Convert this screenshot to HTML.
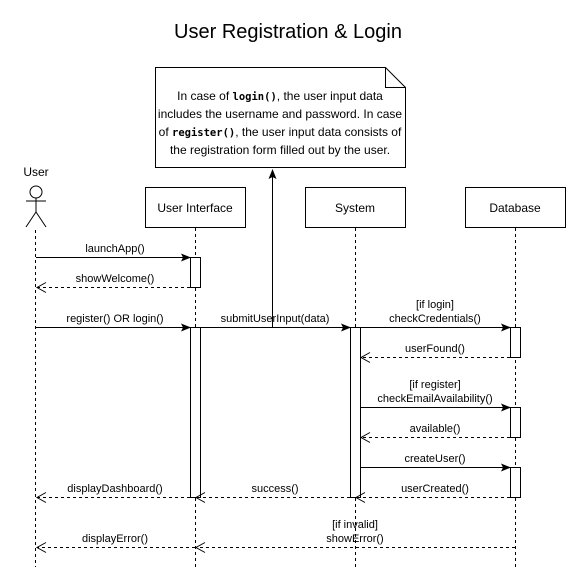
<!DOCTYPE html>
<html><head><meta charset="utf-8"><style>
body{margin:0;background:#fff}
svg{display:block}
text{font-family:"Liberation Sans",Arial,sans-serif;font-size:11px;fill:#000}
text.b{font-size:12px}
</style></head><body>
<svg width="576" height="578" viewBox="0 0 576 578" xmlns="http://www.w3.org/2000/svg">
<defs>
<marker id="f" markerWidth="10" markerHeight="8" refX="9" refY="4" orient="auto" markerUnits="userSpaceOnUse"><path d="M0,0 L10,4 L0,8 L2,4 Z" fill="#000"/></marker>
<marker id="o" markerWidth="12" markerHeight="12" refX="10" refY="6" orient="auto" markerUnits="userSpaceOnUse"><path d="M1,1 L10,6 L1,11" fill="none" stroke="#000"/></marker>
</defs>
<text x="288" y="38" text-anchor="middle" style="font-size:20px">User Registration &amp; Login</text>
<!-- note -->
<path d="M155.5,67.5 H385.5 L405.5,87.5 V167.5 H155.5 Z" fill="#fff" stroke="#000"/>
<path d="M385.5,67.5 V87.5 H405.5" fill="none" stroke="#000"/>
<g text-anchor="middle">
<text class="b" x="280" y="100">In case of <tspan style="font-family:'DejaVu Sans Mono',monospace;font-weight:bold;font-size:10.5px">login()</tspan>, the user input data</text>
<text class="b" x="280" y="118">includes the username and password. In case</text>
<text class="b" x="280" y="136">of <tspan style="font-family:'DejaVu Sans Mono',monospace;font-weight:bold;font-size:10.5px">register()</tspan>, the user input data consists of</text>
<text class="b" x="280" y="154">the registration form filled out by the user.</text>
</g>
<!-- actor -->
<text class="b" x="36" y="176" text-anchor="middle">User</text>
<g stroke="#000" fill="none">
<circle cx="36" cy="192" r="6" fill="#fff"/>
<line x1="36" y1="198" x2="36" y2="212"/>
<line x1="26" y1="201" x2="46" y2="201"/>
<line x1="36" y1="212" x2="26" y2="227"/>
<line x1="36" y1="212" x2="46" y2="227"/>
</g>
<!-- lifeline boxes -->
<g stroke="#000" fill="#fff">
<rect x="145.5" y="187.5" width="100" height="40"/>
<rect x="305.5" y="187.5" width="100" height="40"/>
<rect x="465.5" y="187.5" width="100" height="40"/>
</g>
<g text-anchor="middle">
<text class="b" x="195" y="212">User Interface</text>
<text class="b" x="355" y="212">System</text>
<text class="b" x="515" y="212">Database</text>
</g>
<g stroke="#000" stroke-dasharray="3,3">
<line x1="35.5" y1="230" x2="35.5" y2="567"/>
<line x1="195.5" y1="228" x2="195.5" y2="567"/>
<line x1="355.5" y1="228" x2="355.5" y2="567"/>
<line x1="515.5" y1="228" x2="515.5" y2="567"/>
</g>
<!-- activations -->
<g stroke="#000" fill="#fff">
<rect x="190.5" y="257.5" width="10" height="30"/>
<rect x="190.5" y="327.5" width="10" height="170"/>
<rect x="350.5" y="327.5" width="10" height="170"/>
<rect x="510.5" y="327.5" width="10" height="30"/>
<rect x="510.5" y="407.5" width="10" height="30"/>
<rect x="510.5" y="467.5" width="10" height="30"/>
</g>
<!-- note arrow -->
<line x1="272.5" y1="327" x2="272.5" y2="170" stroke="#000" marker-end="url(#f)"/>
<!-- sync messages -->
<g stroke="#000" marker-end="url(#f)">
<line x1="36" y1="257.5" x2="190" y2="257.5"/>
<line x1="36" y1="327.5" x2="190" y2="327.5"/>
<line x1="200" y1="327.5" x2="350" y2="327.5"/>
<line x1="360" y1="327.5" x2="510" y2="327.5"/>
<line x1="360" y1="407.5" x2="510" y2="407.5"/>
<line x1="360" y1="467.5" x2="510" y2="467.5"/>
</g>
<!-- return messages -->
<g stroke="#000" stroke-dasharray="3,3" marker-end="url(#o)">
<line x1="190" y1="287.5" x2="37" y2="287.5"/>
<line x1="510" y1="357.5" x2="361" y2="357.5"/>
<line x1="510" y1="437.5" x2="361" y2="437.5"/>
<line x1="510" y1="497.5" x2="356" y2="497.5"/>
<line x1="350" y1="497.5" x2="196" y2="497.5"/>
<line x1="190" y1="497.5" x2="37" y2="497.5"/>
<line x1="515" y1="547.5" x2="196" y2="547.5"/>
<line x1="195" y1="547.5" x2="37" y2="547.5"/>
</g>
<g text-anchor="middle">
<text x="115" y="252">launchApp()</text>
<text x="115" y="282">showWelcome()</text>
<text x="115" y="322">register() OR login()</text>
<text x="275" y="322">submitUserInput(data)</text>
<text x="435" y="308">[if login]</text>
<text x="435" y="322">checkCredentials()</text>
<text x="435" y="352">userFound()</text>
<text x="435" y="388">[if register]</text>
<text x="435" y="402">checkEmailAvailability()</text>
<text x="435" y="432">available()</text>
<text x="435" y="462">createUser()</text>
<text x="435" y="492">userCreated()</text>
<text x="275" y="492">success()</text>
<text x="115" y="492">displayDashboard()</text>
<text x="355" y="528">[if invalid]</text>
<text x="355" y="542">showError()</text>
<text x="115" y="542">displayError()</text>
</g>
</svg>
</body></html>
